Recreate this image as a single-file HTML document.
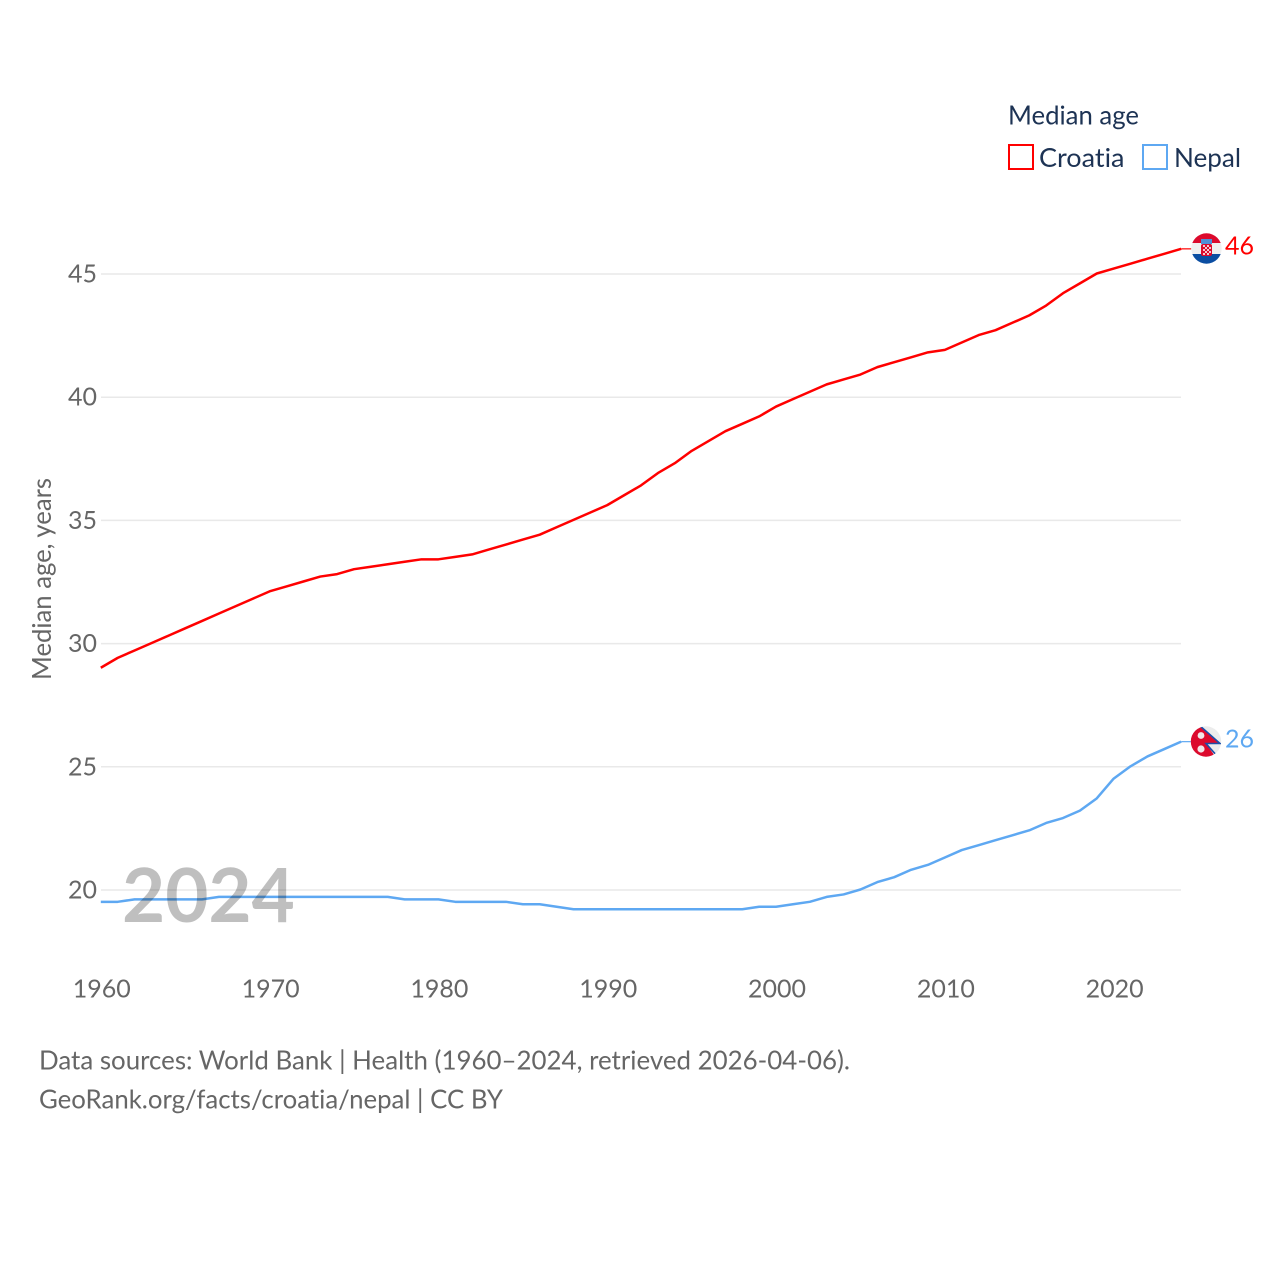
<!DOCTYPE html>
<html lang="en">
<head>
<meta charset="utf-8">
<title>Median age: Croatia and Nepal</title>
<style>
html,body{margin:0;padding:0;background:#fff;width:1280px;height:1280px;overflow:hidden}
svg{display:block;font-family:"Lato","Carlito","Liberation Sans",sans-serif;font-variant-ligatures:none}
</style>
</head>
<body>
<svg id="chart" width="1280" height="1280" viewBox="0 0 1280 1280" xmlns="http://www.w3.org/2000/svg">
  <defs>
    <clipPath id="clip-hr"><circle cx="1206.5" cy="248.5" r="15.2"/></clipPath>
    <clipPath id="clip-np"><circle cx="1206" cy="741.5" r="15.2"/></clipPath>
  </defs>
  <rect width="1280" height="1280" fill="#fff"/>
  <g id="grid"></g>
  <g id="yticks"></g>
  <g id="xticks"></g>
  <text transform="translate(51,680) rotate(-90)" font-size="26" fill="#666" textLength="202" lengthAdjust="spacingAndGlyphs">Median age, years</text>
  <g id="series"></g>
  <text x="122" y="922" font-size="74.5" font-weight="700" fill="#000" fill-opacity="0.25">2024</text>

  <g clip-path="url(#clip-hr)">
    <rect x="1190" y="232" width="34" height="11" fill="#dc0a2d"/>
    <rect x="1190" y="243" width="34" height="11" fill="#f0f0f0"/>
    <rect x="1190" y="254" width="34" height="12" fill="#0b4ea2"/>
    <rect x="1201" y="239" width="11" height="5" fill="#4f8fd8"/>
    <rect x="1201" y="244" width="11" height="12" rx="2" fill="#dc0a2d"/>
    <rect x="1203" y="245" width="2" height="2" fill="#f6c9cf"/>
    <rect x="1207" y="245" width="2" height="2" fill="#f6c9cf"/>
    <rect x="1205" y="247" width="2" height="2" fill="#f6c9cf"/>
    <rect x="1209" y="247" width="2" height="2" fill="#f6c9cf"/>
    <rect x="1203" y="249" width="2" height="2" fill="#f6c9cf"/>
    <rect x="1207" y="249" width="2" height="2" fill="#f6c9cf"/>
    <rect x="1205" y="251" width="2" height="2" fill="#f6c9cf"/>
    <rect x="1209" y="251" width="2" height="2" fill="#f6c9cf"/>
    <rect x="1207" y="253" width="2" height="2" fill="#f6c9cf"/>
    <rect x="1203" y="253" width="2" height="2" fill="#f6c9cf"/>
  </g>
  <g clip-path="url(#clip-np)">
    <rect x="1190" y="725" width="34" height="34" fill="#ececec"/>
    <polygon points="1190,725 1198,725 1220,743.5 1206,743.5 1217,759 1190,759" fill="#dc0a2d"/>
    <polyline points="1199,725 1220,743.5 1206,743.5 1218,757" fill="none" stroke="#1a4fa8" stroke-width="1.6"/>
    <circle cx="1201" cy="735.5" r="3.4" fill="#f2e6e8"/>
    <circle cx="1201" cy="749" r="3.6" fill="#f2e6e8"/>
  </g>

  <text id="end-hr" x="1225" y="254.5" font-size="25" fill="#f00"></text>
  <text id="end-np" x="1225" y="747.5" font-size="25" fill="#5ea8f2"></text>

  <g>
    <text x="1008" y="124.5" font-size="26" fill="#1d3354" textLength="131" lengthAdjust="spacingAndGlyphs">Median age</text>
    <rect x="1009" y="145" width="24" height="24" fill="#fff" stroke="#f00" stroke-width="2"/>
    <text x="1039" y="167" font-size="26" fill="#1d3354" textLength="85.5" lengthAdjust="spacingAndGlyphs">Croatia</text>
    <rect x="1143" y="145" width="24" height="24" fill="#fff" stroke="#5ea8f2" stroke-width="2"/>
    <text x="1174" y="167" font-size="26" fill="#1d3354" textLength="67" lengthAdjust="spacingAndGlyphs">Nepal</text>
  </g>

  <text x="39" y="1069.5" font-size="26" fill="#666" textLength="811" lengthAdjust="spacingAndGlyphs">Data sources: World Bank | Health (1960–2024, retrieved 2026-04-06).</text>
  <text x="39" y="1108.5" font-size="26" fill="#666" textLength="464" lengthAdjust="spacingAndGlyphs">GeoRank.org/facts/croatia/nepal | CC BY</text>
</svg>
<script>
const years = [1960,1961,1962,1963,1964,1965,1966,1967,1968,1969,1970,1971,1972,1973,1974,1975,1976,1977,1978,1979,1980,1981,1982,1983,1984,1985,1986,1987,1988,1989,1990,1991,1992,1993,1994,1995,1996,1997,1998,1999,2000,2001,2002,2003,2004,2005,2006,2007,2008,2009,2010,2011,2012,2013,2014,2015,2016,2017,2018,2019,2020,2021,2022,2023,2024];
const croatia = [29.0,29.4,29.7,30.0,30.3,30.6,30.9,31.2,31.5,31.8,32.1,32.3,32.5,32.7,32.8,33.0,33.1,33.2,33.3,33.4,33.4,33.5,33.6,33.8,34.0,34.2,34.4,34.7,35.0,35.3,35.6,36.0,36.4,36.9,37.3,37.8,38.2,38.6,38.9,39.2,39.6,39.9,40.2,40.5,40.7,40.9,41.2,41.4,41.6,41.8,41.9,42.2,42.5,42.7,43.0,43.3,43.7,44.2,44.6,45.0,45.2,45.4,45.6,45.8,46.0];
const nepal = [19.5,19.5,19.6,19.6,19.6,19.6,19.6,19.7,19.7,19.7,19.7,19.7,19.7,19.7,19.7,19.7,19.7,19.7,19.6,19.6,19.6,19.5,19.5,19.5,19.5,19.4,19.4,19.3,19.2,19.2,19.2,19.2,19.2,19.2,19.2,19.2,19.2,19.2,19.2,19.3,19.3,19.4,19.5,19.7,19.8,20.0,20.3,20.5,20.8,21.0,21.3,21.6,21.8,22.0,22.2,22.4,22.7,22.9,23.2,23.7,24.5,25.0,25.4,25.7,26.0];
const yTickLabels = [20,25,30,35,40,45];
const xTickLabels = [1960,1970,1980,1990,2000,2010,2020];

const NS = 'http://www.w3.org/2000/svg';
function xScale(year) { return 100.8 + (year - 1960) * (1181.2 - 100.8) / 64; }
function yScale(age) { return 890 - (age - 20) * 24.64; }

const grid = document.getElementById('grid');
const yticks = document.getElementById('yticks');
const xticks = document.getElementById('xticks');
const series = document.getElementById('series');
const LINE_SHIFT = -0.5;

yTickLabels.forEach(function (v) {
  const line = document.createElementNS(NS, 'line');
  
  
  line.setAttribute('x1', 101);
  line.setAttribute('x2', 1181);
  line.setAttribute('y1', yScale(v));
  line.setAttribute('y2', yScale(v));
  line.setAttribute('stroke', '#e9e9e9');
  line.setAttribute('stroke-width', '1.5');
  grid.appendChild(line);

  const t = document.createElementNS(NS, 'text');
  
  
  t.setAttribute('x', 68);
  t.setAttribute('y', yScale(v) + 8.5);
  t.setAttribute('font-size', '25');
  t.setAttribute('fill', '#666');
  t.textContent = v;
  yticks.appendChild(t);
});

xTickLabels.forEach(function (v) {
  const t = document.createElementNS(NS, 'text');
  
  
  t.setAttribute('x', xScale(v) - 28);
  t.setAttribute('y', 997.5);
  t.setAttribute('font-size', '25');
  t.setAttribute('fill', '#666');
  t.textContent = v;
  xticks.appendChild(t);
});

function pointsFor(values) {
  return values.map(function (v, i) {
    return xScale(years[i]).toFixed(2) + ',' + (yScale(v) + LINE_SHIFT).toFixed(2);
  }).join(' ');
}

const lineHr = document.createElementNS(NS, 'polyline');


lineHr.setAttribute('points', pointsFor(croatia));
lineHr.setAttribute('fill', 'none');
lineHr.setAttribute('stroke', '#f00');
lineHr.setAttribute('stroke-width', '2.5');
lineHr.setAttribute('stroke-linejoin', 'round');
series.appendChild(lineHr);

const lineNp = document.createElementNS(NS, 'polyline');


lineNp.setAttribute('points', pointsFor(nepal));
lineNp.setAttribute('fill', 'none');
lineNp.setAttribute('stroke', '#5ea8f2');
lineNp.setAttribute('stroke-width', '2.5');
lineNp.setAttribute('stroke-linejoin', 'round');
series.appendChild(lineNp);

function addStub(values, color, name) {
  const last = values[values.length - 1];
  const stub = document.createElementNS(NS, 'line');
  
  
  stub.setAttribute('x1', xScale(years[years.length - 1]));
  stub.setAttribute('x2', xScale(years[years.length - 1]) + 10);
  stub.setAttribute('y1', yScale(last) + LINE_SHIFT);
  stub.setAttribute('y2', yScale(last) + LINE_SHIFT);
  stub.setAttribute('stroke', color);
  stub.setAttribute('stroke-width', '1.2');
  series.appendChild(stub);
}
addStub(croatia, '#f00', 'croatia-end-connector');
addStub(nepal, '#5ea8f2', 'nepal-end-connector');

document.getElementById('end-hr').textContent = Math.round(croatia[croatia.length - 1]);
document.getElementById('end-np').textContent = Math.round(nepal[nepal.length - 1]);
</script>
</body>
</html>
